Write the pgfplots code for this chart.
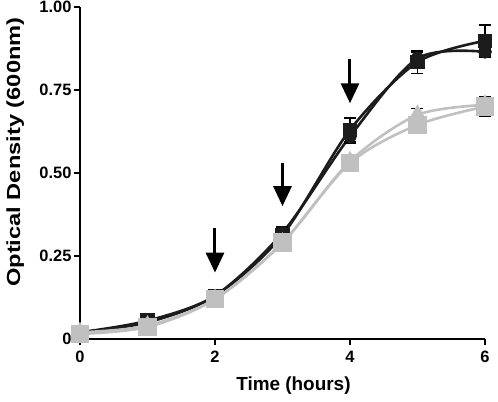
\documentclass[border=0pt]{standalone}
\usepackage{fontspec}
\setmainfont{Liberation Sans}
\usepackage{pgfplots}
\pgfplotsset{compat=1.18}
\usetikzlibrary{arrows.meta}
\definecolor{lgrey}{RGB}{192,192,192}
\definecolor{dblk}{RGB}{28,28,28}
\begin{document}
\begin{tikzpicture}[x=1bp,y=1bp]
\begin{axis}[
  scale only axis, width=405bp, height=332bp,
  xmin=0, xmax=6, ymin=0, ymax=1,
  axis lines*=left,
  axis line style={line width=2.8bp, black},
  tick style={line width=2.2bp, black},
  major tick length=6bp, tick align=outside,
  xtick={0,2,4,6}, ytick={0,0.25,0.5,0.75,1},
  yticklabels={0,0.25,0.50,0.75,1.00},
  /pgf/number format/assume math mode=true,
  tick label style={font=\fontsize{16.5}{16.5}\selectfont\bfseries},
  xticklabel style={yshift=-3bp},
  yticklabel style={xshift=1bp},
  xlabel={\fontsize{19}{19}\selectfont\bfseries Time (hours)},
  ylabel={\scalebox{1.25}[1]{\fontsize{19}{19}\selectfont\bfseries Optical Density (600nm)}},
  xlabel style={at={(axis description cs:0.527,-0.1416)}, anchor=center},
  ylabel style={at={(axis description cs:-0.16,0.563)}, anchor=center, rotate=0},
  clip=false,
  error bars/error bar style={line width=1.5bp, black},
  error bars/error mark options={rotate=90, mark size=6bp, line width=1.5bp, black},
]
% black circles
\addplot[dblk, line width=2.6bp, smooth, tension=0.5, mark=*, mark size=5.5bp, mark options={fill=dblk, draw=dblk},
  error bars/.cd, y dir=both, y explicit]
  coordinates {(0,0.02)+-(0,0) (1,0.05)+-(0,0.005) (2,0.13)+-(0,0.005) (3,0.32)+-(0,0.01) (4,0.61)+-(0,0.02) (5,0.845)+-(0,0.02) (6,0.865)+-(0,0.01)};
% black squares
\addplot[dblk, line width=2.6bp, smooth, tension=0.5, mark=square*, mark size=6bp, mark options={fill=dblk, draw=dblk},
  error bars/.cd, y dir=both, y explicit]
  coordinates {(0,0.02)+-(0,0) (1,0.055)+-(0,0.012) (2,0.13)+-(0,0.006) (3,0.313)+-(0,0.024) (4,0.63)+-(0,0.036) (5,0.834)+-(0,0.035) (6,0.898)+-(0,0.048)};
% grey triangles
\addplot[lgrey, line width=2.6bp, smooth, tension=0.5, mark=triangle*, mark size=8bp, mark options={fill=lgrey, draw=lgrey},
  error bars/.cd, y dir=both, y explicit]
  coordinates {(0,0.02)+-(0,0) (1,0.04)+-(0,0.004) (2,0.12)+-(0,0.005) (3,0.29)+-(0,0.01) (4,0.535)+-(0,0.015) (5,0.675)+-(0,0.02) (6,0.705)+-(0,0.02)};
% grey squares
\addplot[lgrey, line width=2.6bp, smooth, tension=0.5, mark=square*, mark size=8bp, mark options={fill=lgrey, draw=lgrey},
  error bars/.cd, y dir=both, y explicit]
  coordinates {(0,0.015)+-(0,0) (1,0.036)+-(0,0.004) (2,0.12)+-(0,0.005) (3,0.29)+-(0,0.01) (4,0.53)+-(0,0.025) (5,0.645)+-(0,0.02) (6,0.70)+-(0,0.03)};
% arrows
\draw[line width=3bp, -{Triangle[length=20bp,width=18bp]}] (axis cs:2,0.334) -- (axis cs:2,0.20);
\draw[line width=3bp, -{Triangle[length=20bp,width=18bp]}] (axis cs:3,0.53) -- (axis cs:3,0.40);
\draw[line width=3bp, -{Triangle[length=20bp,width=18bp]}] (axis cs:4,0.843) -- (axis cs:4,0.71);
\end{axis}
\pgfresetboundingbox
\path (-80bp,-63bp) rectangle (418bp,339bp);
\end{tikzpicture}
\end{document}
